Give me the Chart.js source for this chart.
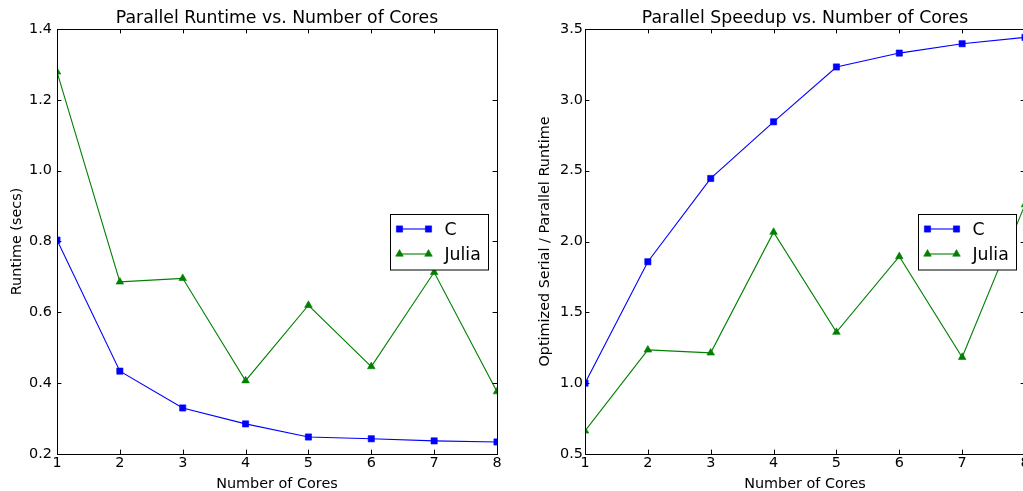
<!DOCTYPE html>
<html><head><meta charset="utf-8">
<script src="https://cdn.jsdelivr.net/npm/chart.js@4"></script>
<style>
html,body{margin:0;padding:0;background:#fff;overflow:hidden;width:1023px;height:491px;}
#wrap{position:relative;width:1023px;height:491px;overflow:hidden;background:#fff;}
canvas{position:absolute;top:0;}
#c1{left:0}
#c2{left:528px}
</style></head><body>
<div id="wrap"><canvas id="c1" width="510" height="491"></canvas><canvas id="c2" width="510" height="491"></canvas></div>
<script>
const cores = [1, 2, 3, 4, 5, 6, 7, 8];
const runtimeC = [0.804, 0.434, 0.330, 0.285, 0.248, 0.243, 0.237, 0.234];
const runtimeJulia = [1.279, 0.686, 0.696, 0.407, 0.620, 0.447, 0.713, 0.376];
const speedupC = [1.0, 1.857, 2.445, 2.845, 3.232, 3.330, 3.396, 3.441];
const speedupJulia = [0.663, 1.235, 1.214, 2.066, 1.360, 1.894, 1.183, 2.26];
const seriesNames = ['C', 'Julia'];
const chartTitles = ['Parallel Runtime vs. Number of Cores', 'Parallel Speedup vs. Number of Cores'];
const xAxisLabel = 'Number of Cores';
const yAxisLabels = ['Runtime (secs)', 'Optimized Serial / Parallel Runtime'];
const yTicksRuntime = [0.2, 0.4, 0.6, 0.8, 1.0, 1.2, 1.4];
const yTicksSpeedup = [0.5, 1.0, 1.5, 2.0, 2.5, 3.0, 3.5];

const FONT = "'DejaVu Sans', sans-serif";
const TXT = '#000';
const BLUE = '#0000ff';
const GREEN = '#008000';
const SMALL = 14.4;
const LARGE = 17.3;

function makeDataset(label, ys, color, style, radius) {
  return {
    label: label,
    data: cores.map((x, i) => ({x: x, y: ys[i]})),
    borderColor: color,
    backgroundColor: color,
    borderWidth: 1.1,
    pointStyle: style,
    pointRadius: radius,
    pointBorderWidth: 0.6,
    pointBorderColor: color,
    pointBackgroundColor: color,
    tension: 0,
    clip: 0,
    fill: false
  };
}

const decorPlugin = {
  id: 'decor',
  afterDatasetsDraw(chart, args, opts) {
    const ctx = chart.ctx;
    const a = chart.chartArea;
    const xs = chart.scales.x, ys = chart.scales.y;
    ctx.save();
    ctx.strokeStyle = '#000';
    ctx.lineWidth = 1;
    const TL = 4.4;
    ctx.beginPath();
    xs.ticks.forEach(t => {
      const px = Math.round(xs.getPixelForValue(t.value)) + 0.5;
      ctx.moveTo(px, a.bottom); ctx.lineTo(px, a.bottom - TL);
      ctx.moveTo(px, a.top); ctx.lineTo(px, a.top + TL);
    });
    ys.ticks.forEach(t => {
      const py = Math.round(ys.getPixelForValue(t.value)) + 0.5;
      ctx.moveTo(a.left, py); ctx.lineTo(a.left + TL, py);
      ctx.moveTo(a.right, py); ctx.lineTo(a.right - TL, py);
    });
    ctx.stroke();
    ctx.strokeRect(Math.round(a.left) + 0.5, Math.round(a.top) + 0.5,
                   Math.round(a.right - a.left), Math.round(a.bottom - a.top));
    ctx.fillStyle = TXT;
    ctx.font = LARGE + "px " + FONT;
    ctx.textAlign = 'center';
    ctx.textBaseline = 'alphabetic';
    ctx.fillText(opts.title, (a.left + a.right) / 2, 23.3);
    const bw = 98, bh = 55.5;
    const bx = Math.round(a.right - 9 - bw) + 0.5;
    const by = Math.round((a.top + a.bottom) / 2 - bh / 2) + 0.5;
    ctx.fillStyle = '#fff';
    ctx.fillRect(bx, by, bw, bh);
    ctx.strokeStyle = '#000';
    ctx.lineWidth = 1;
    ctx.strokeRect(bx, by, bw, bh);
    chart.data.datasets.forEach((ds, i) => {
      const ry = by + 14.5 + i * 25;
      ctx.strokeStyle = ds.borderColor;
      ctx.lineWidth = ds.borderWidth;
      ctx.beginPath();
      ctx.moveTo(bx + 9, ry); ctx.lineTo(bx + 38, ry);
      ctx.stroke();
      ctx.fillStyle = ds.pointBackgroundColor;
      ctx.strokeStyle = ds.pointBorderColor;
      ctx.lineWidth = ds.pointBorderWidth;
      [bx + 9, bx + 38].forEach(mx => {
        Chart.helpers.drawPoint(ctx, {pointStyle: ds.pointStyle, radius: ds.pointRadius, borderWidth: ds.pointBorderWidth, rotation: 0}, mx, ry);
      });
      ctx.fillStyle = TXT;
      ctx.font = LARGE + "px " + FONT;
      ctx.textAlign = 'left';
      ctx.textBaseline = 'alphabetic';
      ctx.fillText(ds.label, bx + 54, ry + 5.8);
    });
    ctx.restore();
  }
};

function makeChart(id, title, yLabel, yTicks, cData, jData, yTickPad) {
  return new Chart(document.getElementById(id), {
    type: 'line',
    data: {
      datasets: [
        makeDataset(seriesNames[0], cData, BLUE, 'rect', 4.4),
        makeDataset(seriesNames[1], jData, GREEN, 'triangle', 4.4)
      ]
    },
    options: {
      responsive: false,
      animation: false,
      events: [],
      devicePixelRatio: 1,
      layout: {padding: {top: 29, right: 13, left: 0, bottom: 0}},
      plugins: {
        legend: {display: false},
        tooltip: {enabled: false},
        title: {display: false},
        decor: {title: title}
      },
      scales: {
        x: {
          type: 'linear',
          min: cores[0], max: cores[cores.length - 1],
          afterBuildTicks: s => { s.ticks = cores.map(v => ({value: v})); },
          afterFit: s => { s.height = 37; },
          grid: {display: false, drawTicks: false},
          border: {display: false},
          ticks: {padding: 1, color: TXT, font: {family: FONT, size: SMALL, lineHeight: 1.2}, callback: v => String(v), maxRotation: 0, autoSkip: false},
          title: {display: true, text: xAxisLabel, color: TXT, font: {family: FONT, size: SMALL, lineHeight: 0.95}, padding: {top: 0, bottom: 0}}
        },
        y: {
          type: 'linear',
          min: yTicks[0], max: yTicks[yTicks.length - 1],
          afterBuildTicks: s => { s.ticks = yTicks.map(v => ({value: v})); },
          afterFit: s => { s.width = 57; },
          grid: {display: false, drawTicks: false},
          border: {display: false},
          ticks: {padding: yTickPad, color: TXT, font: {family: FONT, size: SMALL}, callback: v => Number(v).toFixed(1), autoSkip: false},
          title: {display: true, text: yLabel, color: TXT, font: {family: FONT, size: SMALL, lineHeight: 1.2}, padding: {top: 8.5, bottom: 0}}
        }
      }
    },
    plugins: [decorPlugin]
  });
}

makeChart('c1', chartTitles[0], yAxisLabels[0], yTicksRuntime, runtimeC, runtimeJulia, 5);
makeChart('c2', chartTitles[1], yAxisLabels[1], yTicksSpeedup, speedupC, speedupJulia, 2);
</script>
</body></html>
